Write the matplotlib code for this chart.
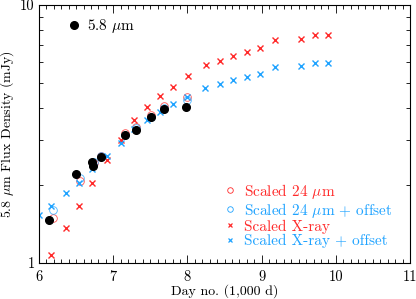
import matplotlib
matplotlib.use("Agg")
import matplotlib.pyplot as plt
from matplotlib.lines import Line2D

plt.rcParams['font.family'] = ['cmr10', 'DejaVu Serif']
plt.rcParams['mathtext.fontset'] = 'cm'
plt.rcParams['axes.formatter.use_mathtext'] = True

RED = '#ff2a2a'
BLUE = '#1fa3ff'

# 5.8 micron measurements
day_58 = [6.135, 6.495, 6.72, 6.73, 6.835, 7.163, 7.307, 7.505, 7.69, 7.98]
flux_58 = [1.47, 2.21, 2.46, 2.38, 2.57, 3.13, 3.28, 3.67, 3.94, 4.01]

# Scaled 24 micron
day_24 = [6.19, 6.55, 6.74, 6.84, 7.16, 7.31, 7.51, 7.69, 7.99]
flux_24 = [1.49, 2.08, 2.44, 2.60, 3.18, 3.37, 3.75, 4.06, 4.41]
flux_24_off = [1.61, 2.14, 2.46, 2.60, 3.13, 3.34, 3.68, 3.98, 4.30]

# Scaled X-ray
day_x = [6.162, 6.364, 6.535, 6.717, 6.916, 7.101, 7.276, 7.449, 7.631, 7.802,
         8.004, 8.244, 8.439, 8.619, 8.799, 8.982, 9.181, 9.527, 9.72, 9.89]
flux_x = [1.07, 1.37, 1.66, 2.05, 2.51, 2.99, 3.58, 4.02, 4.42, 4.82,
          5.29, 5.83, 6.08, 6.34, 6.57, 6.83, 7.30, 7.40, 7.63, 7.65]

# Scaled X-ray + offset
day_xo = [5.995, 6.168, 6.364, 6.539, 6.717, 6.916, 7.101, 7.276, 7.452, 7.631, 7.802,
          7.999, 8.24, 8.439, 8.619, 8.799, 8.982, 9.181, 9.527, 9.72, 9.89]
flux_xo = [1.53, 1.67, 1.86, 2.05, 2.31, 2.61, 2.93, 3.30, 3.58, 3.85, 4.12,
           4.41, 4.78, 4.94, 5.12, 5.26, 5.42, 5.74, 5.80, 5.94, 5.96]

fig = plt.figure(figsize=(4.16, 2.99), dpi=100)
ax = fig.add_axes([39/416, 1-263/299, 371/416, 258/299])

ax.plot(day_24, flux_24, 'o', ms=5.5, mfc='none', mec=RED, mew=0.6, alpha=0.8)
ax.plot(day_24, flux_24_off, 'o', ms=5.5, mfc='none', mec=BLUE, mew=0.6, alpha=0.8)
ax.plot(day_x, flux_x, 'x', ms=5, color=RED, mew=1.0)
ax.plot(day_xo, flux_xo, 'x', ms=5, color=BLUE, mew=1.0)
ax.plot(day_58, flux_58, 'o', ms=5.5, color='black', mec='black')

ax.set_xlim(6, 11)
ax.set_yscale('log')
ax.set_ylim(1, 10)
ax.set_xticks([6, 7, 8, 9, 10, 11])
ax.set_xticklabels(['6', '7', '8', '9', '10', '11'])
ax.set_xticks([6 + 0.1*i for i in range(51)], minor=True)
ax.set_yticks([1, 10])
ax.set_yticklabels(['1', '10'])
ax.set_yticks([2, 3, 4, 5, 6, 7, 8, 9], minor=True)
ax.yaxis.set_minor_formatter(matplotlib.ticker.NullFormatter())
ax.tick_params(which='both', direction='in', top=True, right=True, labelsize=10.5, width=0.6)
ax.tick_params(which='major', length=6)
ax.tick_params(which='minor', length=3)
ax.tick_params(axis='x', pad=5)
ax.tick_params(axis='y', pad=3)
for s in ax.spines.values():
    s.set_linewidth(0.8)

ax.set_xlabel('Day no. (1,000 d)', fontsize=10)
ax.set_ylabel(r'5.8 $\mu$m Flux Density (mJy)', fontsize=10)
ax.xaxis.set_label_coords(0.5, -0.082)
ax.yaxis.set_label_coords(-0.061, 0.5)

h1 = [Line2D([], [], ls='none', marker='o', ms=5.5, color='black')]
leg1 = ax.legend(h1, [r'5.8 $\mu$m'], loc='upper left', bbox_to_anchor=(0.042, 1.007),
                 frameon=False, fontsize=11, handlelength=0.8, handletextpad=0.45)
ax.add_artist(leg1)

h2 = [Line2D([], [], ls='none', marker='o', ms=4, mfc='none', mec=RED, mew=0.6),
      Line2D([], [], ls='none', marker='o', ms=4, mfc='none', mec=BLUE, mew=0.6),
      Line2D([], [], ls='none', marker='x', ms=3.5, color=RED, mew=0.9),
      Line2D([], [], ls='none', marker='x', ms=3.5, color=BLUE, mew=0.9)]
labels2 = [r'Scaled 24 $\mu$m', r'Scaled 24 $\mu$m + offset', 'Scaled X-ray', 'Scaled X-ray + offset']
leg2 = ax.legend(h2, labels2, loc='lower left', bbox_to_anchor=(0.462, 0.005),
                 frameon=False, fontsize=11, handlelength=0.8, handletextpad=0.5,
                 labelspacing=0.0, labelcolor=[RED, BLUE, RED, BLUE])

fig.savefig('out.png', dpi=100)
